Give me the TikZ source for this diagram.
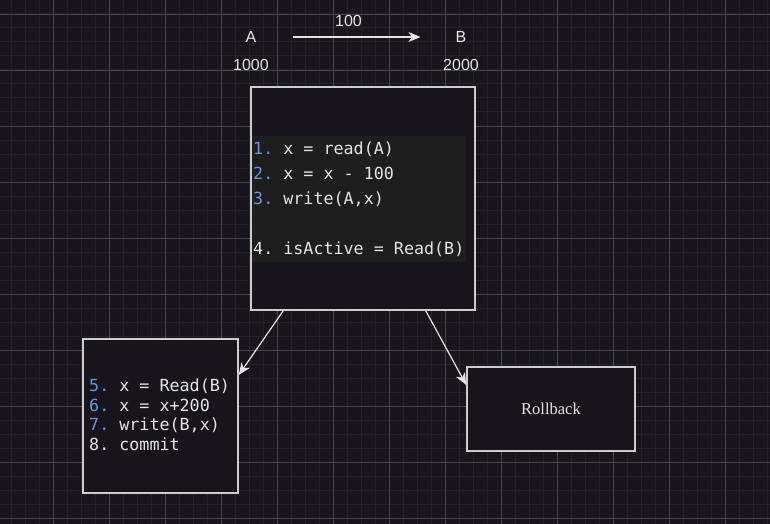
\documentclass[tikz,border=0pt]{standalone}
\usepackage{fontspec}
\setmainfont{Liberation Serif}
\newfontfamily\labelfont{Liberation Sans}
\newfontfamily\codefont{DejaVu Sans Mono}
\usetikzlibrary{arrows.meta}
\definecolor{canvas}{RGB}{24,22,28}
\definecolor{minorgrid}{RGB}{35,33,40}
\definecolor{majorgrid}{RGB}{70,69,75}
\definecolor{boxfill}{RGB}{23,21,27}
\definecolor{codebg}{RGB}{30,30,31}
\definecolor{edge}{RGB}{205,205,207}
\definecolor{ink}{RGB}{228,228,228}
\definecolor{num}{RGB}{104,148,214}
\begin{document}
\begin{tikzpicture}[x = 1pt, y = -1pt,
    txbox/.style = {draw = edge, line width = 1.5pt, fill = boxfill, inner sep = 0pt},
    varlabel/.style = {font = \labelfont\fontsize{16}{16}\selectfont, text = ink, inner sep = 0pt},
    codeline/.style = {font = \codefont\fontsize{16.7}{20}\selectfont, text = ink,
      inner sep = 0pt, anchor = base west},
    link/.style = {draw = ink, line width = 1.2pt,
      -{Stealth[length = 12pt, width = 10pt, inset = 3.5pt]}}]
  \useasboundingbox (0,0) rectangle (770,524);
  % background and grid
  \fill [canvas] (0,0) rectangle (770,524);
  \foreach \x in {11,25,...,767} \draw [minorgrid, line width = 1pt] (\x,0) -- (\x,524);
  \foreach \y in {0,14,...,522} \draw [minorgrid, line width = 1pt] (0,\y) -- (770,\y);
  \foreach \x in {53,109,...,725} \draw [majorgrid, line width = .9pt] (\x,0) -- (\x,524);
  \foreach \y in {14,70,...,518} \draw [majorgrid, line width = .9pt] (0,\y) -- (770,\y);
  % accounts and transfer
  \node [varlabel] (a) at (251,37) {A};
  \node [varlabel] (b) at (461,37) {B};
  \node [varlabel] (avalue) at (251,65) {1000};
  \node [varlabel] (bvalue) at (461,65) {2000};
  \draw [link] ([xshift = 36pt]a.east) -- ([xshift = -35pt]b.west)
   node [varlabel, midway, above = 10pt, xshift = -8pt] (amount) {100};
  % first part of the transaction
  \node [txbox, minimum width = 224pt, minimum height = 223pt] (tx1) at (363,198.5) {};
  \fill [codebg] (252,136) rectangle (466,262);
  \foreach \y/\n/\c/\txt in {154/1/num/{x = read(A)}, 179/2/num/{x = x - 100},
      204/3/num/{write(A,x)}, 254/4/ink/{isActive = Read(B)}}
    \node [codeline] (step\n) at (253,\y) {\textcolor{\c}{\n.}\ \txt};
  % second part
  \node [txbox, minimum width = 155pt, minimum height = 154pt] (tx2) at (160.5,416) {};
  \foreach \y/\n/\c/\txt in {391/5/num/{x = Read(B)}, 411/6/num/{x = x+200},
      430.5/7/num/{write(B,x)}, 450.5/8/ink/{commit}}
    \node [codeline] (step\n) at (89,\y) {\textcolor{\c}{\n.}\ \txt};
  \node [txbox, minimum width = 168pt, minimum height = 84pt, text = ink,
    font = \fontsize{16.5}{18}\selectfont] (rollback) at (551,409) {Rollback};
  % outcomes
  \draw [link] ([xshift = 33pt]tx1.south west) -- ([yshift = 41pt]tx2.east);
  \draw [link] ([xshift = -50pt]tx1.south east) -- ([yshift = 24pt]rollback.west);
\end{tikzpicture}
\end{document}
